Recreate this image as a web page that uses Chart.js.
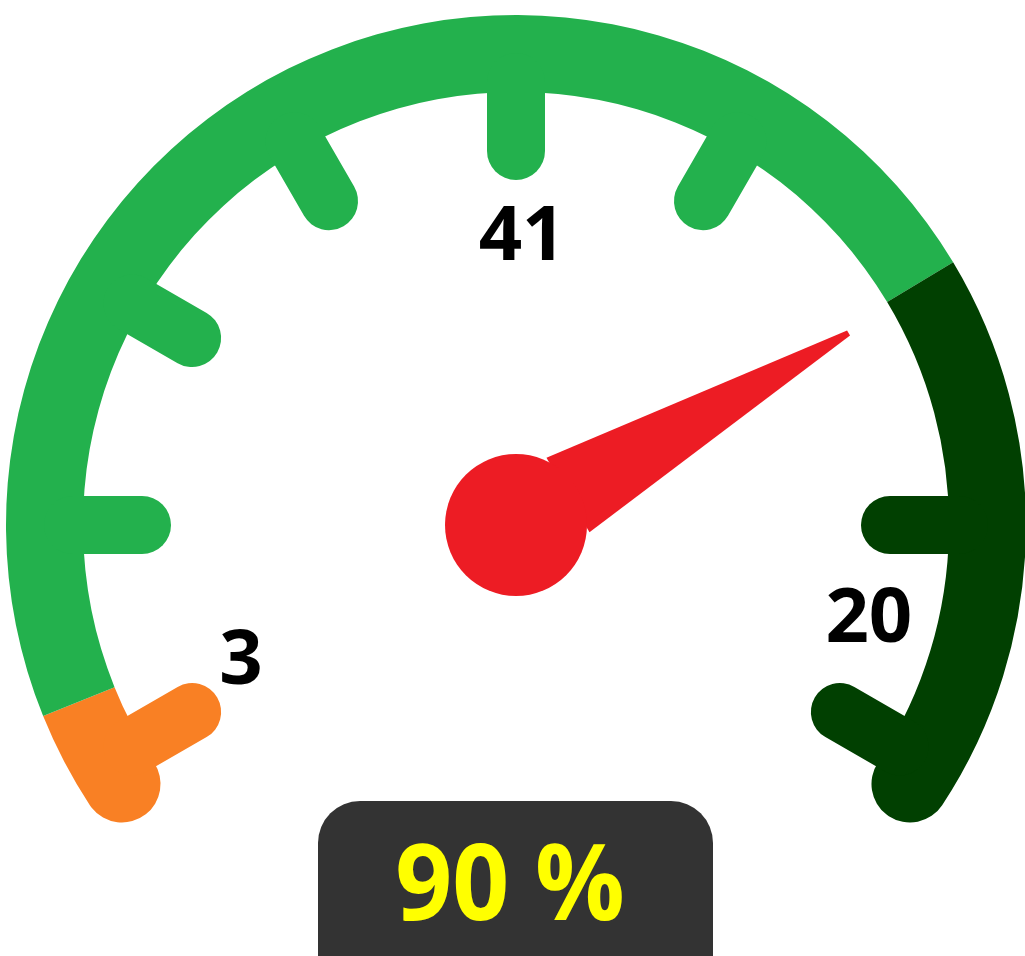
<!DOCTYPE html>
<html>
<head>
<meta charset="utf-8">
<script src="https://cdn.jsdelivr.net/npm/chart.js@4.4.1/dist/chart.umd.min.js"></script>
<style>
  html, body { margin: 0; padding: 0; background: #fff; }
  #wrap { width: 1025px; height: 956px; overflow: hidden; }
</style>
</head>
<body>
<div id="wrap"><canvas id="gauge" width="1025" height="956"></canvas></div>
<script>
// gauge data (units = degrees of sweep along the dial)
const segmentNames = ['Low', 'Normal', 'High'];
const segmentSpans = [16, 171, 69];
const tickPositions = [8, 38, 68, 98, 128, 158, 218, 248];
const markerLabels = ['3', '41', '20'];
const markerPositions = [12.4, 129.2, 232.3];
const needleValue = 188;
const readoutValue = 90;

const segmentColors = ['#F98024', '#23B14D', '#014001'];
const markerRadii = [0.704, 0.675, 0.841]; // fraction of inner radius
const labelFont = "bold 76px 'Open Sans'";

function segmentIndexFor(v) {
    let acc = 0;
    for (let i = 0; i < segmentSpans.length; i++) {
        if (v < acc + segmentSpans[i]) return i;
        acc += segmentSpans[i];
    }
    return segmentSpans.length - 1;
}

const gaugeDecor = {
    id: 'gaugeDecor',
    afterDatasetsDraw(chart) {
        const arcs = chart.getDatasetMeta(0).data;
        if (!arcs.length) return;
        const first = arcs[0];
        const last = arcs[arcs.length - 1];
        const cx = first.x, cy = first.y;
        const inner = first.innerRadius;
        const total = segmentSpans.reduce((a, b) => a + b, 0);
        const toAngle = v => first.startAngle + (v / total) * (last.endAngle - first.startAngle);
        const ctx = chart.ctx;

        ctx.save();
        // tick knobs on the inside of the ring
        ctx.lineCap = 'round';
        ctx.lineWidth = 58;
        tickPositions.forEach(p => {
            const a = toAngle(p);
            ctx.strokeStyle = segmentColors[segmentIndexFor(p)];
            ctx.beginPath();
            ctx.moveTo(cx + Math.cos(a) * (inner - 59), cy + Math.sin(a) * (inner - 59));
            ctx.lineTo(cx + Math.cos(a) * (inner + 10), cy + Math.sin(a) * (inner + 10));
            ctx.stroke();
        });

        // marker labels
        ctx.fillStyle = '#000';
        ctx.font = labelFont;
        ctx.textAlign = 'center';
        ctx.textBaseline = 'alphabetic';
        markerLabels.forEach((t, i) => {
            const a = toAngle(markerPositions[i]);
            const r = inner * markerRadii[i];
            ctx.fillText(t, cx + Math.cos(a) * r, cy + Math.sin(a) * r + 27);
        });

        // needle
        const a = toAngle(needleValue);
        const ux = Math.cos(a), uy = Math.sin(a);
        const vx = -uy, vy = ux;
        const tipR = 384, baseR = 60, baseHalf = 43, tipHalf = 3;
        ctx.fillStyle = '#ED1C24';
        ctx.beginPath();
        ctx.moveTo(cx + ux * baseR + vx * baseHalf, cy + uy * baseR + vy * baseHalf);
        ctx.lineTo(cx + ux * tipR + vx * tipHalf, cy + uy * tipR + vy * tipHalf);
        ctx.lineTo(cx + ux * tipR - vx * tipHalf, cy + uy * tipR - vy * tipHalf);
        ctx.lineTo(cx + ux * baseR - vx * baseHalf, cy + uy * baseR - vy * baseHalf);
        ctx.closePath();
        ctx.fill();
        ctx.beginPath();
        ctx.arc(cx, cy, 71, 0, Math.PI * 2);
        ctx.fill();

        // readout box
        ctx.fillStyle = '#333333';
        ctx.beginPath();
        ctx.roundRect(cx - 198, cy + 276, 395, 220, 42);
        ctx.fill();
        ctx.fillStyle = '#FFFF00';
        ctx.font = "bold 106px 'Open Sans'";
        ctx.translate(cx - 6, cy + 395);
        ctx.scale(0.94, 1);
        ctx.fillText(readoutValue + ' %', 0, 0);
        ctx.restore();
    }
};

const ctx = document.getElementById('gauge').getContext('2d');
new Chart(ctx, {
    type: 'doughnut',
    data: {
        labels: segmentNames,
        datasets: [{
            data: segmentSpans,
            backgroundColor: segmentColors,
            borderWidth: 0,
            borderRadius: [
                { outerStart: 40, innerStart: 40, outerEnd: 0, innerEnd: 0 },
                0,
                { outerStart: 0, innerStart: 0, outerEnd: 40, innerEnd: 40 }
            ]
        }]
    },
    options: {
        responsive: false,
        devicePixelRatio: 1,
        animation: false,
        rotation: -128,
        circumference: 256,
        radius: 510,
        cutout: '84.9%',
        layout: { padding: { left: 7, top: 0, right: 0, bottom: 102 } },
        plugins: {
            legend: { display: false },
            tooltip: { enabled: false }
        }
    },
    plugins: [gaugeDecor]
});
</script>
</body>
</html>
